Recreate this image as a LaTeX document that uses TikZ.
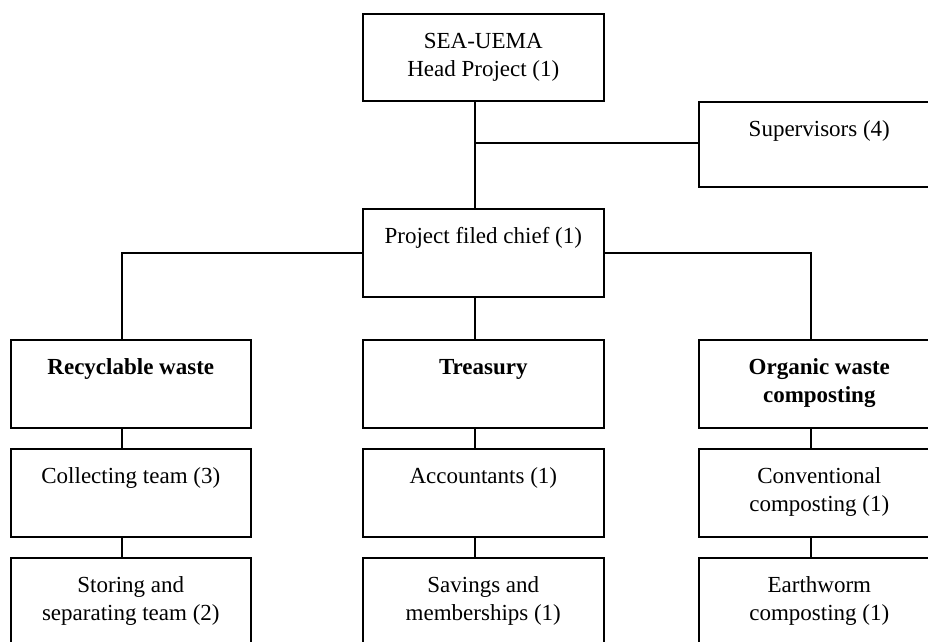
\documentclass[tikz,border=0pt]{standalone}
\usepackage{fontspec}
\setmainfont{Liberation Serif}
\newcommand\bxt[3]{\parbox[c][#2pt][t]{#1pt}{\centering\fontsize{23}{28}\selectfont\rule{0pt}{35pt}#3\par}}
\tikzset{
  box/.style={draw, line width=1.6pt, inner sep=0pt, anchor=north west},
  conn/.style={draw, line width=1.6pt}
}
\begin{document}
\begin{tikzpicture}[x=1pt,y=-1pt]
\useasboundingbox (0,0) rectangle (928,641);
% top levels
\node[box] (top) at (362,13) {\bxt{241}{87}{SEA-UEMA\\Head Project (1)}};
\node[box] (sup) at (698,101) {\bxt{241}{85}{Supervisors (4)}};
\node[box] (chief) at (362,208) {\bxt{241}{88}{Project filed chief (1)}};
% level 2
\node[box] (rec) at (10,339) {\bxt{240}{88}{\bfseries Recyclable waste}};
\node[box] (tre) at (362,339) {\bxt{241}{88}{\bfseries Treasury}};
\node[box] (org) at (698,339) {\bxt{241}{88}{\bfseries Organic waste\\composting}};
% level 3
\node[box] (col) at (10,448) {\bxt{240}{88}{Collecting team (3)}};
\node[box] (acc) at (362,448) {\bxt{241}{88}{Accountants (1)}};
\node[box] (con) at (698,448) {\bxt{241}{88}{Conventional\\composting (1)}};
% level 4
\node[box] (sto) at (10,557) {\bxt{240}{88}{Storing and\\separating team (2)}};
\node[box] (sav) at (362,557) {\bxt{241}{88}{Savings and\\memberships (1)}};
\node[box] (ear) at (698,557) {\bxt{241}{88}{Earthworm\\composting (1)}};
% connectors
\coordinate (cl) at (122,0);
\coordinate (cm) at (475,0);
\coordinate (cr) at (811,0);
\coordinate (j) at (475,143);
\draw[conn] (top.south -| cm) -- (chief.north -| cm);
\draw[conn] (j) -- (sup.west |- j);
\draw[conn] (chief.west) -| (rec.north -| cl);
\draw[conn] (chief.east) -| (org.north -| cr);
\draw[conn] (chief.south -| cm) -- (tre.north -| cm);
\draw[conn] (rec.south -| cl) -- (col.north -| cl);
\draw[conn] (col.south -| cl) -- (sto.north -| cl);
\draw[conn] (tre.south -| cm) -- (acc.north -| cm);
\draw[conn] (acc.south -| cm) -- (sav.north -| cm);
\draw[conn] (org.south -| cr) -- (con.north -| cr);
\draw[conn] (con.south -| cr) -- (ear.north -| cr);
\end{tikzpicture}
\end{document}
